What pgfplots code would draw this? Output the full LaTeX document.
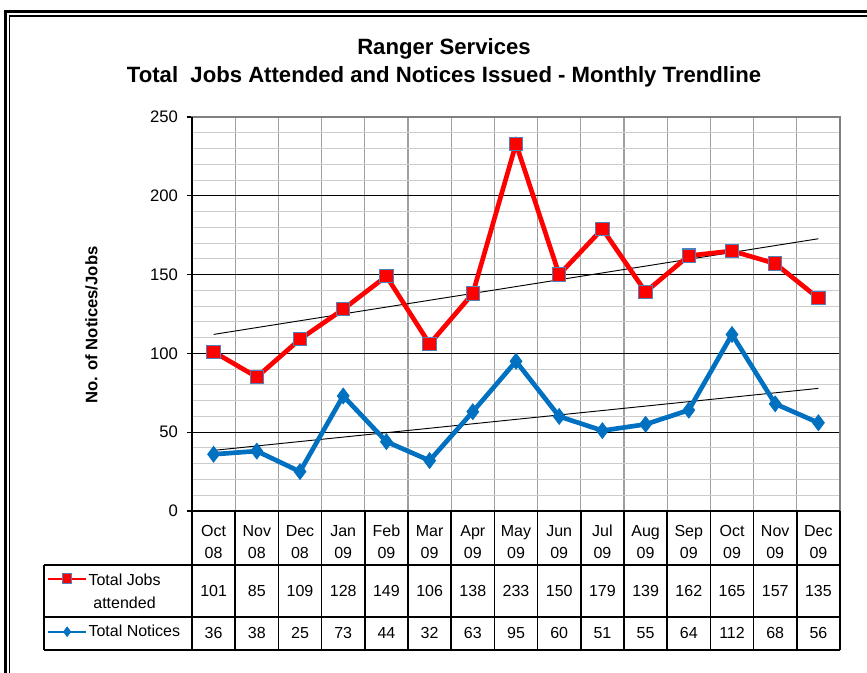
\documentclass[border=0pt]{standalone}
\usepackage{pgfplots}
\pgfplotsset{compat=1.18}
\usepackage{fontspec}
\setmainfont{Liberation Sans}
\definecolor{jred}{RGB}{255,0,0}
\definecolor{jblue}{RGB}{0,112,192}
\definecolor{medge}{RGB}{79,129,189}
\begin{document}
\begin{tikzpicture}
\begin{scope}[x=0.75pt,y=-0.75pt]
\useasboundingbox (0,0) rectangle (867,673);
\fill[white] (0,0) rectangle (867,673);
\draw[line width=2.5pt] (5.5,700) -- (5.5,11.5) -- (900,11.5);
\draw[line width=0.9pt] (9.8,700) -- (9.8,16) -- (900,16);
\node[font=\bfseries\fontsize{16.6}{21}\selectfont, align=center] at (444,63) {Ranger Services\\Total\ \ Jobs Attended and Notices Issued - Monthly Trendline};
\foreach \i in {1,...,14} {\draw[gray!75, line width=0.8pt] ({192+43.2*\i},117) -- ({192+43.2*\i},511);}
\end{scope}
\begin{axis}[
  at={(144pt,-383.25pt)}, anchor=south west,
  width=486pt, height=295.5pt, scale only axis,
  xmin=0.5, xmax=15.5, ymin=0, ymax=250,
  xtick={1,...,15},
  xticklabels={{Oct\\08},{Nov\\08},{Dec\\08},{Jan\\09},{Feb\\09},{Mar\\09},{Apr\\09},{May\\09},{Jun\\09},{Jul\\09},{Aug\\09},{Sep\\09},{Oct\\09},{Nov\\09},{Dec\\09}},
  xticklabel style={align=center, font=\fontsize{12}{16.5}\selectfont, yshift=-3pt},
  xtick style={draw=none},
  ytick={0,50,...,250},
  minor ytick={10,20,...,240},
  minor y tick style={draw=none},
  ytick style={black, line width=0.8pt},
  tick align=outside, ytick pos=left, xtick pos=bottom,
  major tick length=4pt,
  yticklabel style={font=\fontsize{12.5}{14}\selectfont, xshift=-3pt},
  /pgf/number format/assume math mode=true,
  ymajorgrids, yminorgrids,
  major grid style={black, line width=0.8pt},
  minor grid style={gray!40, line width=0.8pt},
  axis line style={gray, line width=0.8pt},
  ylabel={No. of Notices/Jobs},
  ylabel style={font=\bfseries\fontsize{12.5}{14}\selectfont, at={(axis description cs:-0.155,0.472)}, anchor=center},
  clip=false,
  legend style={at={(axis description cs:-0.224,-0.145)}, anchor=north west, draw=none, fill=none, font=\fontsize{12}{17}\selectfont, row sep=26pt, inner sep=0pt, nodes={inner sep=1pt}},
  legend cell align=left,
  legend image code/.code={\draw[mark repeat=2,mark phase=2, line width=1.6pt, mark size=3.6pt] plot coordinates {(0cm,0cm) (0.5cm,0cm) (1cm,0cm)};},
]
\addplot[black, line width=0.7pt, forget plot] coordinates {(1,112.05) (15,172.75)};
\addplot[black, line width=0.7pt, forget plot] coordinates {(1,38.46) (15,77.81)};
\addplot[jred, line width=3.5pt, mark=square*, mark size=5pt, mark options={fill=jred, draw=medge, line width=0.8pt}] coordinates {
(1,101) (2,85) (3,109) (4,128) (5,149) (6,106) (7,138) (8,233) (9,150) (10,179) (11,139) (12,162) (13,165) (14,157) (15,135)};
\addlegendentry{\begin{tabular}[t]{@{}c@{}}Total Jobs\\attended\end{tabular}}
\addplot[jblue, line width=3.5pt, mark=diamond*, mark size=6pt, mark options={fill=jblue, draw=jblue, line width=0.5pt}] coordinates {
(1,36) (2,38) (3,25) (4,73) (5,44) (6,32) (7,63) (8,95) (9,60) (10,51) (11,55) (12,64) (13,112) (14,68) (15,56)};
\addlegendentry{Total Notices}
\end{axis}
\begin{scope}[x=0.75pt,y=-0.75pt]
\draw[black, line width=1.1pt] (192,117) -- (192,650);
\draw[black, line width=1.1pt] (192,511) -- (840,511);
\draw[black, line width=1.1pt] (44,565) -- (840,565);
\draw[black, line width=1.1pt] (44,617) -- (840,617);
\draw[black, line width=1.5pt] (44,650) -- (840,650);
\draw[black, line width=1.1pt] (44,565) -- (44,650);
\draw[black, line width=1.5pt] (840,511) -- (840,650);
\foreach \i in {1,...,14} {\draw[black, line width=1.1pt] ({192+43.2*\i},511) -- ({192+43.2*\i},650);}
\foreach \v [count=\i] in {101,85,109,128,149,106,138,233,150,179,139,162,165,157,135} {
  \node[font=\fontsize{12}{14}\selectfont] at ({192+43.2*(\i-0.5)},591) {\v};}
\foreach \v [count=\i] in {36,38,25,73,44,32,63,95,60,51,55,64,112,68,56} {
  \node[font=\fontsize{12}{14}\selectfont] at ({192+43.2*(\i-0.5)},633) {\v};}
\end{scope}
\end{tikzpicture}
\end{document}
